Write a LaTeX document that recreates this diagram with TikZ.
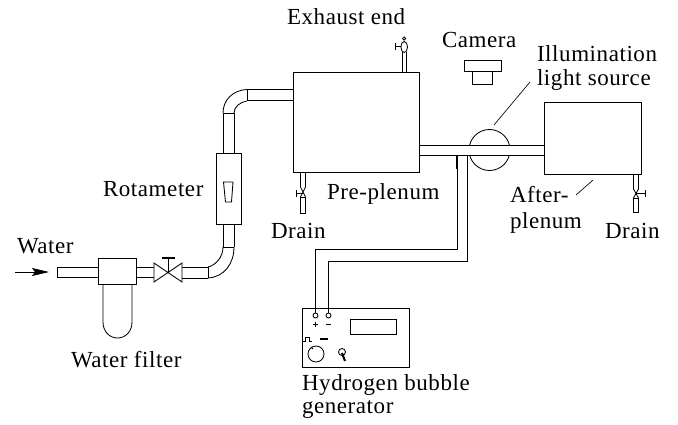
\documentclass[tikz,border=0pt]{standalone}
\usepackage{fontspec}
\setmainfont[LetterSpace=2.5]{Liberation Serif}
\usetikzlibrary{arrows.meta}
\tikzset{
  line/.style={line width=0.85pt,black},
  box/.style={draw,line width=0.85pt,fill=white,inner sep=0pt,outer sep=0pt,anchor=north west},
  lbl/.style={anchor=base west,inner sep=0pt,outer sep=0pt,font=\fontsize{23pt}{26pt}\selectfont},
  terminal/.style={circle,draw,line width=0.85pt,fill=white,minimum size=5pt,inner sep=0pt},
  thin wire/.style={line width=0.65pt,black},
}
\begin{document}
\begin{tikzpicture}[x=1pt,y=-1pt]
\useasboundingbox (0,0) rectangle (678,424);
% light source circle, behind the pipe
\node[circle,draw,line width=0.85pt,minimum size=41pt,inner sep=0pt] (light) at (489.5,150) {};
% boxes
\node[box,minimum width=126pt,minimum height=100pt] (pre) at (293,72) {};
\node[box,minimum width=97pt,minimum height=72pt] (after) at (544,102) {};
\node[box,minimum width=25pt,minimum height=71pt] (rota) at (216.5,153) {};
\node[box,minimum width=38pt,minimum height=26pt] (filter) at (98,258) {};
\node[box,minimum width=107pt,minimum height=59pt] (gen) at (302,308) {};
\node[box,minimum width=46pt,minimum height=15pt] (display) at (350,319) {};
% camera
\node[box,minimum width=37pt,minimum height=11pt] (camtop) at (464,60) {};
\node[box,minimum width=20pt,minimum height=13pt] (cambase) at (472.5,71) {};
% pipe from pre-plenum to after-plenum
\fill[white] (419.6,145) rectangle (543.4,155);
\draw[line] (419,145) -- (544,145) (419,155) -- (544,155);
% inlet
\draw[line] (98,267) -- (57,267) -- (57,277) -- (98,277);
% filter bowl
\draw[line] (103,284) -- (103,322) .. controls (103,332) and (110,338) .. (117.5,338) .. controls (125,338) and (132,332) .. (132,322) -- (132,284);
% filter to valve
\draw[line] (136,267) -- (154,267) (136,277) -- (154,277);
% valve
\draw[line] (154,263) -- (182,282) -- (182,263) -- (154,282) -- cycle;
\coordinate (vc) at (168,272.5);
\draw[line] (vc) -- (168,258);
\draw[line width=1.6pt] (162,258) -- (175,258);
% valve to lower elbow
\draw[line] (182,267) -- (208,267) (182,278) -- (208,278);
\draw[line] (208,267) -- (208,278);
\draw[line] (208,278) .. controls (224,277) and (234,264) .. (234,247);
\draw[line] (208,267) .. controls (216,265) and (223,257) .. (223,247);
\draw[line] (223,247) -- (234,247);
\draw[line] (223,247) -- (223,224) (234,247) -- (234,224);
% rotameter float
\draw[line] (223.5,182) -- (233,182) -- (231.5,202) -- (225.5,202) -- cycle;
% upper elbow
\draw[line] (223,153) -- (223,113) (234,153) -- (234,113);
\draw[line] (223,113) -- (234,113);
\draw[line] (223,113) .. controls (223,100) and (233,90) .. (247,89.5);
\draw[line] (234,113) .. controls (234,107) and (240,102) .. (247,101);
\draw[line] (247,89.5) -- (247,101);
\draw[line] (247,89.5) -- (293,89.5) (247,100.5) -- (293,100.5);
% exhaust valve
\draw[line] (402,72) -- (402,52) (406.5,72) -- (406.5,52);
\draw[line] (404.2,47) ellipse[x radius=3.3,y radius=5.5];
\draw[line] (404.2,38.5) circle[radius=1.6];
\draw[line] (395,43) -- (395,50) (395,46.5) -- (401,46.5);
% left drain
\draw[line] (300.5,172) -- (300.5,187) (305.5,172) -- (305.5,187);
\draw[line] (300.5,187) -- (305.5,197) (305.5,187) -- (300.5,197);
\draw[line] (300.5,197) rectangle (305.5,213);
\draw[line] (296,190) -- (296,197) (296,193.5) -- (303,193.5);
% right drain
\draw[line] (633.5,174) -- (633.5,189) (638.5,174) -- (638.5,189);
\draw[line] (633.5,189) -- (638.5,198) (638.5,189) -- (633.5,198);
\draw[line] (633.5,198) rectangle (638.5,212);
\draw[line] (645.5,190) -- (645.5,197) (636,193.5) -- (645.5,193.5);
% leaders
\coordinate (lsA) at (494,125); \coordinate (lsB) at (530,82);
\draw[thin wire] (lsA) -- (lsB);
\coordinate (apA) at (576,195); \coordinate (apB) at (593,180);
\draw[thin wire] (apA) -- (apB);
% water arrow
\coordinate (wa) at (15,272); \coordinate (wb) at (49,272);
\draw[thin wire,-{Stealth[length=17pt,width=8pt,inset=3pt]}] (wa) -- (wb);
% generator controls
\node[terminal] (tplus) at (315.5,315.5) {};
\node[terminal] (tminus) at (328.5,315.5) {};
\draw[line] (313,324) -- (318,324) (315.5,321.5) -- (315.5,326.5) (325.5,324) -- (331,324);
\draw[thin wire] (303,341) -- (305,341) -- (305,337) -- (309,337) -- (309,341) -- (312,341);
\draw[line width=1.2pt] (320,339) -- (328,339);
\draw[line] (316,354) circle[radius=8];
\draw[line] (311,347) -- (313,349);
\draw[line] (342,352) circle[radius=3.5];
\draw[line width=2pt] (342,353) -- (345,361);
% wires
\draw[thin wire] (457,155) -- (457,249) -- (315.5,249) -- (tplus);
\draw[line] (467,155) -- (467,261) -- (328.5,261) -- (tminus);
\draw[line width=1.8pt] (457,155) -- (457,169);
% labels
\node[lbl] (t1) at (287,24) {Exhaust end};
\node[lbl] (t2) at (442,47) {Camera};
\node[lbl] (t3) at (537,61) {Illumination};
\node[lbl] (t4) at (537,85) {light source};
\node[lbl] (t5) at (327,199) {Pre-plenum};
\node[lbl] (t6) at (271,238) {Drain};
\node[lbl] (t7) at (510,202) {After-};
\node[lbl] (t8) at (510,228) {plenum};
\node[lbl] (t9) at (605,238) {Drain};
\node[lbl] (t10) at (103,196) {Rotameter};
\node[lbl] (t11) at (17,253) {Water};
\node[lbl] (t12) at (71,367) {Water filter};
\node[lbl] (t13) at (302,390) {Hydrogen bubble};
\node[lbl] (t14) at (302,413) {generator};
\end{tikzpicture}
\end{document}
